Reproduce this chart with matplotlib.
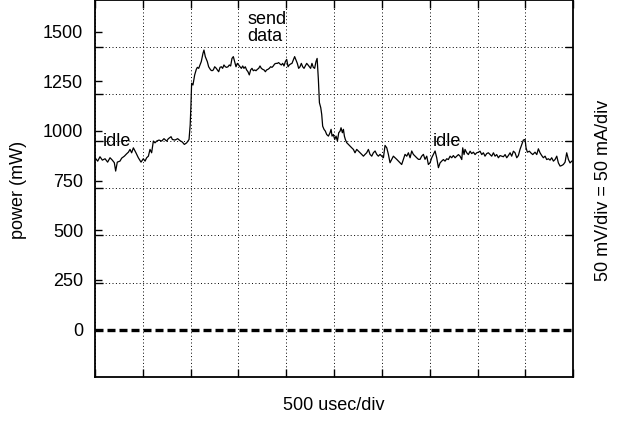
import numpy as np
import matplotlib
matplotlib.use("Agg")
import matplotlib.pyplot as plt
from matplotlib.ticker import FixedLocator, NullFormatter

plt.rcParams['font.family'] = ['Liberation Sans', 'DejaVu Sans']

# scope trace: time (usec) and power (mW)
t_us = [0, 28, 52, 77, 105, 132, 157, 181, 202, 216, 233, 261, 279, 307, 331, 349, 366, 383, 401, 425,
        453, 481, 505, 523, 540, 558, 575, 592, 610, 627, 645, 669, 697, 721, 749, 767, 795, 809, 836, 864,
        889, 913, 934, 958, 983, 995, 1003, 1010,
        1024, 1042, 1059, 1070, 1084, 1097, 1111, 1129, 1139, 1153, 1174, 1188, 1209, 1223, 1237, 1251,
        1268, 1279, 1293, 1307, 1321, 1334, 1348, 1362, 1376, 1390, 1404, 1418, 1432, 1446, 1460, 1474,
        1488, 1502, 1516, 1530, 1544, 1557, 1571, 1585, 1599, 1613, 1627, 1641, 1655, 1669, 1683, 1697,
        1711, 1725, 1739, 1753, 1767, 1781, 1794, 1808, 1822, 1836, 1850, 1864, 1878, 1892, 1906, 1920,
        1934, 1948, 1962, 1976, 1990, 2004, 2018, 2031, 2045, 2059, 2073, 2087, 2101, 2115, 2129, 2143,
        2157, 2171, 2185, 2199, 2213, 2227, 2241, 2254, 2268, 2282, 2296, 2310, 2322,
        2335, 2346, 2360, 2370, 2380, 2394, 2408, 2422, 2440, 2457, 2468, 2478, 2492, 2506, 2520, 2534,
        2548, 2562, 2572, 2586, 2597, 2607, 2617, 2631, 2649, 2666, 2684, 2701, 2718, 2736, 2753, 2771,
        2788, 2806, 2823, 2840, 2858, 2875, 2893, 2910, 2928, 2945, 2962, 2980, 2997, 3015, 3032, 3050,
        3067, 3084, 3102, 3119, 3137, 3154, 3172, 3189, 3206, 3224, 3241, 3259, 3276, 3294, 3311, 3328,
        3346, 3363, 3381, 3398, 3415, 3433, 3450, 3468, 3485, 3503, 3520, 3537, 3555, 3572, 3590,
        3607, 3624, 3642, 3659, 3677, 3694, 3712, 3729, 3746, 3764, 3781, 3799, 3816, 3834, 3844, 3858,
        3868, 3886, 3903, 3921, 3938, 3956, 3973, 3990, 4008, 4025, 4043, 4060, 4077, 4095, 4112, 4130,
        4147, 4165, 4182, 4199, 4217, 4234, 4252, 4269, 4287, 4304, 4321, 4339, 4356, 4374, 4391, 4409,
        4426, 4443, 4461, 4478, 4496, 4506, 4520, 4541, 4555, 4576, 4600, 4618, 4635, 4652, 4670, 4687,
        4705, 4722, 4740, 4757, 4774, 4792, 4809, 4827, 4844, 4862, 4879, 4896, 4914, 4931, 4949, 4966,
        4984, 5000]
power_mw = [865, 848, 870, 853, 860, 843, 865, 853, 840, 798, 843, 848, 863, 873, 885, 893, 907, 890, 915, 893,
            865, 843, 860, 848, 865, 873, 907, 890, 949, 940, 949, 954, 949, 961, 949, 961, 971, 957, 954, 961,
            951, 944, 932, 940, 957, 1030, 1130, 1240,
            1231, 1282, 1310, 1320, 1315, 1332, 1349, 1391, 1407, 1374, 1349, 1323, 1307, 1303, 1307, 1323,
            1315, 1307, 1298, 1320, 1323, 1315, 1332, 1323, 1320, 1323, 1332, 1327, 1365, 1374, 1349, 1323,
            1340, 1332, 1323, 1315, 1327, 1315, 1323, 1307, 1298, 1282, 1307, 1315, 1303, 1307, 1303, 1310,
            1315, 1327, 1315, 1310, 1307, 1298, 1307, 1310, 1315, 1323, 1320, 1327, 1337, 1340, 1340, 1344,
            1337, 1332, 1340, 1327, 1349, 1360, 1323, 1332, 1337, 1340, 1357, 1374, 1357, 1340, 1315, 1323,
            1340, 1323, 1315, 1327, 1340, 1332, 1323, 1315, 1340, 1320, 1315, 1349, 1365,
            1260, 1142, 1117, 1083, 1024, 1008, 999, 982, 974, 991, 1008, 974, 982, 957, 974, 949,
            991, 999, 1016, 991, 1008, 974, 957, 941, 932, 924, 915, 907, 890, 907, 899, 890,
            882, 873, 882, 890, 907, 882, 873, 890, 899, 882, 873, 882, 873, 865, 927, 915,
            882, 840, 857, 873, 865, 857, 848, 840, 831, 857, 882, 873, 890, 865, 899, 882,
            873, 865, 857, 857, 873, 882, 857, 873, 831, 840, 865, 882, 899, 865, 815,
            839, 848, 856, 848, 860, 856, 873, 865, 876, 865, 873, 881, 873, 856, 915, 881,
            907, 890, 881, 898, 886, 893, 881, 890, 893, 898, 881, 890, 873, 886, 890, 881,
            873, 890, 873, 881, 865, 876, 873, 870, 881, 865, 876, 890, 873, 898, 890, 865,
            876, 907, 932, 954, 957, 915, 893, 898, 890, 881, 893, 881, 910, 890, 876, 865,
            873, 856, 860, 853, 865, 848, 856, 873, 839, 823, 826, 831, 843, 890, 856, 839,
            848, 850]

zero_level = 0
y_ticks = [0, 250, 500, 750, 1000, 1250, 1500]
div_t = 500      # usec per division
div_p = 237      # mW per vertical division
n_xdiv = 10
n_ydiv = 8
ydiv_below = 1   # divisions below zero

fs = 13

fig = plt.figure(figsize=(6.21, 4.21), dpi=100)
ax = fig.add_axes([95 / 621, 1 - 376.7 / 421, 478.3 / 621, 376.7 / 421])

ax.plot(t_us, power_mw, color='black', lw=0.9)
ax.axhline(zero_level, color='black', lw=2.4, linestyle=(0, (2.4, 1.2)), zorder=3)

ax.set_xlim(0, n_xdiv * div_t)
ax.set_ylim(-ydiv_below * div_p, (n_ydiv - ydiv_below) * div_p)

# x: division ticks, no labels, top & bottom
ax.set_xticks([i * div_t for i in range(n_xdiv + 1)])
ax.xaxis.set_major_formatter(NullFormatter())
ax.tick_params(axis='x', which='major', direction='in', length=6, width=1,
               top=True, bottom=True)

# y: labelled ticks on left, division ticks as minor on both sides
ax.set_yticks(y_ticks)
ax.yaxis.set_minor_locator(FixedLocator([i * div_p for i in range(-ydiv_below + 1, n_ydiv - ydiv_below)]))
ax.tick_params(axis='y', which='major', direction='in', length=5, width=1,
               left=True, right=False, labelsize=fs, pad=8.5)
ax.tick_params(axis='y', which='minor', direction='in', length=6, width=1,
               left=True, right=True)

ax.grid(True, axis='x', which='major', color='black', lw=0.7, linestyle=(0, (1, 2.5)))
ax.grid(True, axis='y', which='minor', color='black', lw=0.7, linestyle=(0, (1, 2.5)))
ax.grid(False, axis='y', which='major')

for s in ax.spines.values():
    s.set_linewidth(1.3)

ax.text(80, 925, 'idle', fontsize=fs, ha='left', va='baseline')
ax.text(1589, 1605, 'send\ndata', fontsize=fs, ha='left', va='top', linespacing=1.0)
ax.text(3533, 925, 'idle', fontsize=fs, ha='left', va='baseline')

fig.text(19 / 621, 1 - 190 / 421, 'power (mW)', rotation=90, ha='center', va='center', fontsize=fs)
fig.text(603 / 621, 1 - 190 / 421, '50 mV/div = 50 mA/div', rotation=90, ha='center', va='center', fontsize=fs)
fig.text(334 / 621, 1 - 405 / 421, '500 usec/div', ha='center', va='center', fontsize=fs)

fig.savefig('out.png', dpi=100)
